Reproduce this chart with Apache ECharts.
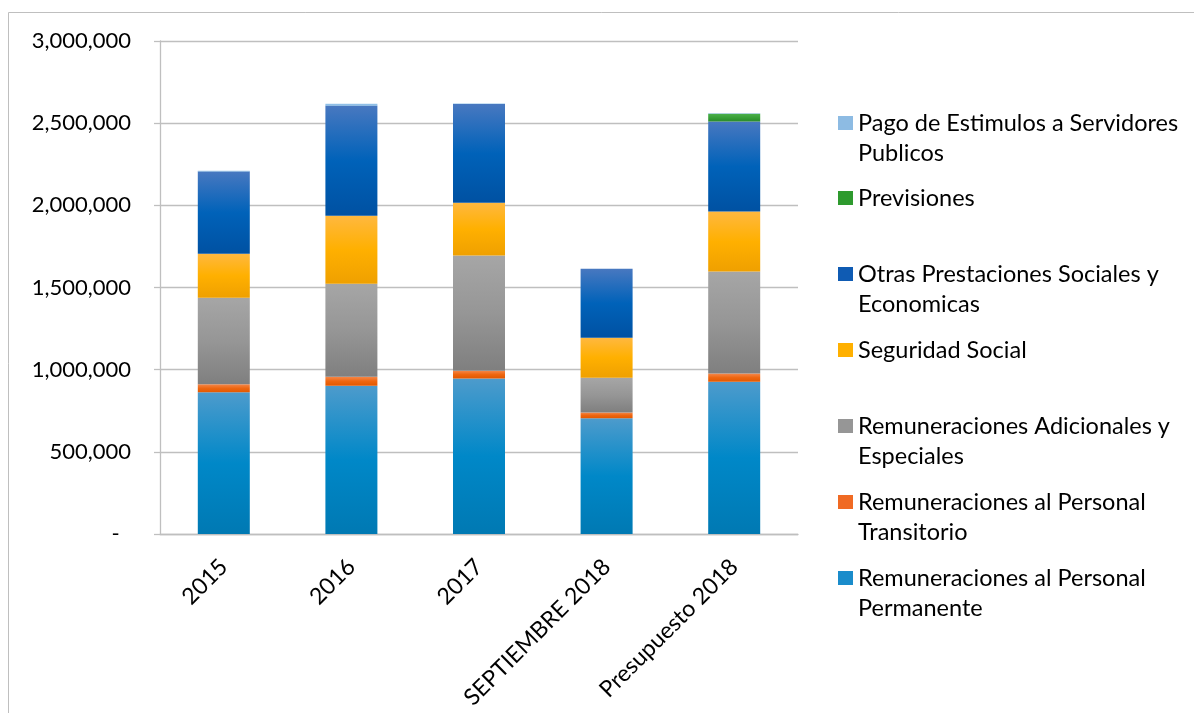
<!DOCTYPE html>
<html>
<head>
<meta charset="utf-8">
<script src="https://cdn.jsdelivr.net/npm/echarts@6/dist/echarts.min.js"></script>
<style>
  html, body { margin: 0; padding: 0; background: #fff; }
  #main { width: 1194px; height: 713px; }
</style>
</head>
<body>
<div id="main"></div>
<script>
// datos
var categorias = ['2015', '2016', '2017', 'SEPTIEMBRE 2018', 'Presupuesto 2018']
var permanente = [862000, 902000, 947000, 704000, 927000]
var transitorio = [49000, 55000, 47000, 36000, 49000]
var adicionales = [527000, 566000, 700000, 211000, 621000]
var seguridad = [267000, 414000, 322000, 243000, 365000]
var otras = [501000, 669000, 600000, 420000, 548000]
var previsiones = [0, 0, 0, 0, 47000]
var pago = [4000, 12000, 4000, 0, 4000]
var yTicks = [0, 500000, 1000000, 1500000, 2000000, 2500000, 3000000]

var fuente = 'Lato'

// degradado vertical tipo excel
function grad(a, b, c) {
  return new echarts.graphic.LinearGradient(0, 0, 0, 1, [
    { offset: 0, color: a },
    { offset: 0.5, color: b },
    { offset: 1, color: c }
  ])
}

var series = [
  { name: 'Remuneraciones al Personal Permanente', data: permanente, color: grad('#4d9bcc', '#0088c8', '#0079b3'), flat: '#1a8ccb', lineas: 2, centro: 578 },
  { name: 'Remuneraciones al Personal Transitorio', data: transitorio, color: grad('#f4874a', '#ee6610', '#e25800'), flat: '#f06a23', lineas: 2, centro: 502 },
  { name: 'Remuneraciones Adicionales y Especiales', data: adicionales, color: grad('#a6a6a6', '#969696', '#7f7f7f'), flat: '#969696', lineas: 2, centro: 426 },
  { name: 'Seguridad Social', data: seguridad, color: grad('#ffb83f', '#ffb000', '#efa000'), flat: '#ffb000', lineas: 1, centro: 350 },
  { name: 'Otras Prestaciones Sociales y Economicas', data: otras, color: grad('#4878c0', '#0062b9', '#0051a2'), flat: '#0f5bb3', lineas: 2, centro: 274 },
  { name: 'Previsiones', data: previsiones, color: grad('#4cb04c', '#38a038', '#2a8a2a'), flat: '#2e9a2e', lineas: 1, centro: 198 },
  { name: 'Pago de Estimulos a Servidores Publicos', data: pago, color: grad('#9ac6ea', '#8cbde6', '#7aaedc'), flat: '#8dbbe3', lineas: 2, centro: 123 }
]

// nombres partidos en dos lineas como en la leyenda original
var partir = {
  'Remuneraciones al Personal Permanente': 'Remuneraciones al Personal\nPermanente',
  'Remuneraciones al Personal Transitorio': 'Remuneraciones al Personal\nTransitorio',
  'Remuneraciones Adicionales y Especiales': 'Remuneraciones Adicionales y\nEspeciales',
  'Otras Prestaciones Sociales y Economicas': 'Otras Prestaciones Sociales y\nEconomicas',
  'Pago de Estimulos a Servidores Publicos': 'Pago de Estimulos a Servidores\nPublicos'
}

var leyendas = series.map(function (s) {
  return {
    orient: 'vertical',
    left: 838,
    top: s.lineas == 2 ? s.centro - 45 : s.centro - 15,
    padding: 0,
    itemWidth: 15,
    itemHeight: 14,
    itemGap: 0,
    icon: 'rect',
    selectedMode: false,
    data: [{ name: s.name, itemStyle: { color: s.flat } }],
    formatter: function (name) {
      return partir[name] ? '\n' + partir[name] : name
    },
    textStyle: { fontFamily: fuente, fontSize: 23.5, color: '#000', lineHeight: 30 }
  }
})

var chart = echarts.init(document.getElementById('main'))
chart.setOption({
  animation: false,
  backgroundColor: '#fff',
  graphic: [{
    type: 'rect',
    shape: { x: 8.5, y: 12.5, width: 1300, height: 800 },
    style: { fill: 'none', stroke: '#bfbfbf', lineWidth: 1 },
    silent: true
  }],
  grid: { left: 160, right: 396, top: 41, bottom: 179 },
  legend: leyendas,
  xAxis: {
    type: 'category',
    data: categorias,
    axisLine: { lineStyle: { color: '#bfbfbf', width: 1.3 } },
    axisTick: { length: 7, lineStyle: { color: '#bfbfbf', width: 1.3 } },
    axisLabel: { rotate: 45, margin: 29, padding: [16, 0, 0, 0], fontFamily: fuente, fontSize: 23, color: '#000' }
  },
  yAxis: {
    type: 'value',
    min: yTicks[0],
    max: yTicks[yTicks.length - 1],
    interval: 500000,
    axisLine: { show: true, lineStyle: { color: '#bfbfbf', width: 1.3 } },
    axisTick: { show: true, length: 6, lineStyle: { color: '#bfbfbf', width: 1.3 } },
    splitLine: { lineStyle: { color: '#bfbfbf', width: 1.3 } },
    axisLabel: {
      margin: 29,
      fontFamily: fuente,
      fontSize: 22,
      color: '#000',
      formatter: function (v) {
        if (v == 0) return '-  '
        return v.toLocaleString('en-US')
      }
    }
  },
  series: series.map(function (s) {
    return {
      name: s.name,
      type: 'bar',
      stack: 'total',
      barWidth: 52,
      data: s.data,
      itemStyle: { color: s.color }
    }
  })
})
</script>
</body>
</html>
